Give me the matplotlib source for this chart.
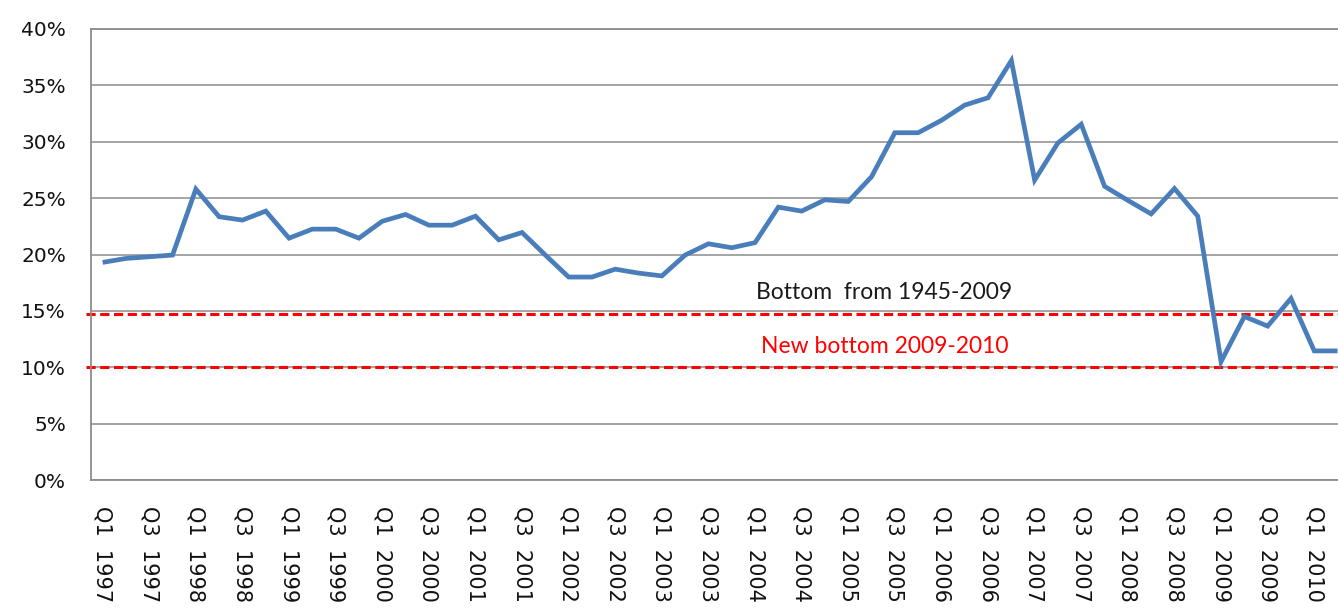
import matplotlib
matplotlib.use("Agg")
import matplotlib.pyplot as plt
from matplotlib.ticker import FixedLocator, FuncFormatter

quarters = [
    "Q1 1997", "Q2 1997", "Q3 1997", "Q4 1997",
    "Q1 1998", "Q2 1998", "Q3 1998", "Q4 1998",
    "Q1 1999", "Q2 1999", "Q3 1999", "Q4 1999",
    "Q1 2000", "Q2 2000", "Q3 2000", "Q4 2000",
    "Q1 2001", "Q2 2001", "Q3 2001", "Q4 2001",
    "Q1 2002", "Q2 2002", "Q3 2002", "Q4 2002",
    "Q1 2003", "Q2 2003", "Q3 2003", "Q4 2003",
    "Q1 2004", "Q2 2004", "Q3 2004", "Q4 2004",
    "Q1 2005", "Q2 2005", "Q3 2005", "Q4 2005",
    "Q1 2006", "Q2 2006", "Q3 2006", "Q4 2006",
    "Q1 2007", "Q2 2007", "Q3 2007", "Q4 2007",
    "Q1 2008", "Q2 2008", "Q3 2008", "Q4 2008",
    "Q1 2009", "Q2 2009", "Q3 2009", "Q4 2009",
    "Q1 2010", "Q2 2010",
]

values = [
    19.3, 19.65, 19.8, 19.95, 25.8, 23.35, 23.05, 23.85,
    21.45, 22.25, 22.25, 21.45, 22.95, 23.55, 22.6, 22.6,
    23.4, 21.3, 21.95, 19.95, 18.0, 18.0, 18.7, 18.35,
    18.1, 19.95, 20.95, 20.6, 21.05, 24.2, 23.85, 24.85,
    24.7, 26.9, 30.8, 30.8, 31.9, 33.25, 33.9, 37.2,
    26.6, 29.9, 31.55, 26.05, 24.8, 23.6, 25.85, 23.4,
    10.5, 14.5, 13.65, 16.1, 11.45, 11.45,
]

bottom_levels = [14.7, 10.0]
bottom_labels = ["Bottom  from 1945-2009", "New bottom 2009-2010"]
bottom_text_colors = ["#1a1a1a", "#ff0000"]

y_ticks = [0, 5, 10, 15, 20, 25, 30, 35, 40]

W, H = 1338, 608
fig = plt.figure(figsize=(W / 100, H / 100), dpi=100)
left_px, right_px, top_px, bottom_px = 91, 1338, 29, 480
ax = fig.add_axes([left_px / W, 1 - bottom_px / H,
                   (right_px - left_px) / W, (bottom_px - top_px) / H])

x = list(range(len(values)))
cat_px = 23.3
ax.set_xlim(-0.5, -0.5 + (right_px - left_px) / cat_px)
ax.set_ylim(0, 40)

grid_color = "#8c8c8c"
for yt in y_ticks:
    ax.axhline(yt, color=grid_color, lw=1.1, zorder=1)

for lvl in bottom_levels:
    ax.axhline(lvl, xmin=-0.004, xmax=1, color="#ff0000", lw=2.2,
               dashes=(3.0, 1.5), zorder=2, clip_on=False)

ax.plot(x, values, color="#4a7ebb", lw=3.4, zorder=3,
        solid_joinstyle="miter", solid_capstyle="butt")

text_x = 33.55
ax.text(text_x, 16.65, bottom_labels[0], color=bottom_text_colors[0],
        ha="center", va="center", fontsize=16.5, family="Lato", zorder=4)
ax.text(text_x, 11.8, bottom_labels[1], color=bottom_text_colors[1],
        ha="center", va="center", fontsize=16.5, family="Lato", zorder=4)

ax.yaxis.set_major_locator(FixedLocator(y_ticks))
ax.yaxis.set_major_formatter(FuncFormatter(lambda v, p: f"{int(v)}%"))
ax.set_xticks(x[::2])
ax.set_xticklabels([q.replace(" ", "  ") for q in quarters[::2]],
                   rotation=-90, va="top", ha="center")

ax.tick_params(axis="y", length=0, pad=18, labelsize=14.5, labelcolor="#111111")
ax.tick_params(axis="x", length=0, pad=19, labelsize=15, labelcolor="#111111")

for side in ["left", "bottom", "top"]:
    ax.spines[side].set_color(grid_color)
    ax.spines[side].set_linewidth(1.3)
ax.spines["right"].set_visible(False)

fig.savefig("out.png", dpi=100)
